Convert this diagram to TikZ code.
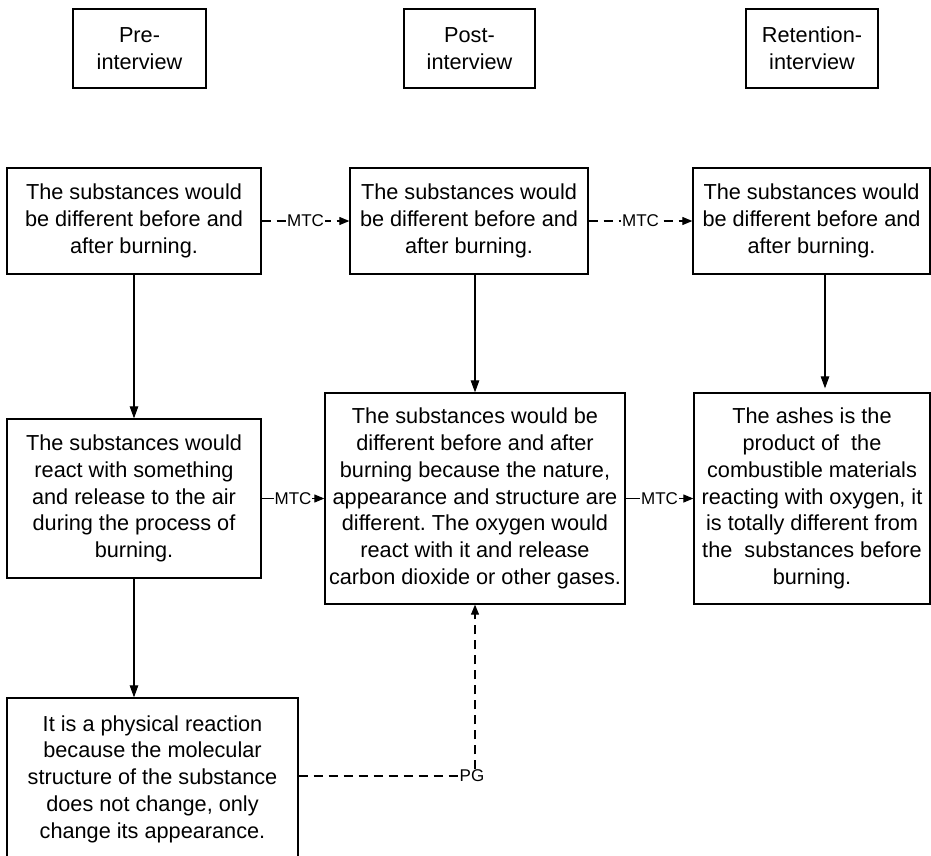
\documentclass[tikz,border=0pt]{standalone}
\usepackage{fontspec}
\setmainfont{Liberation Sans}
\usetikzlibrary{arrows.meta}
\frenchspacing
\begin{document}
\begin{tikzpicture}[x=1pt,y=-1pt,
  box/.style={draw,line width=1.3pt,align=center,inner sep=0pt,
    font=\fontsize{21.7}{26.8}\selectfont\frenchspacing},
  lbl/.style={fill=white,inner sep=1pt,font=\fontsize{17}{19}\selectfont},
  conn/.style={line width=1.1pt,-{Triangle[length=10pt,width=8pt]}},
  vconn/.style={line width=1.1pt,-{Triangle[length=12pt,width=8.5pt]}},
  dsh/.style={dash pattern=on 9pt off 6pt}]
\useasboundingbox (0,0) rectangle (931,855);

% header boxes
\node[box,minimum width=133pt,minimum height=79pt] (hpre) at (139.5,48.5) {Pre-\\interview};
\node[box,minimum width=131pt,minimum height=79pt] (hpost) at (469.5,48.5) {Post-\\interview};
\node[box,minimum width=132pt,minimum height=79pt] (hret) at (812,48.5) {Retention-\\interview};

% row 1
\node[box,minimum width=254pt,minimum height=106pt] (r1a) at (134,221)
  {The substances would\\be different before and\\after burning.};
\node[box,minimum width=238pt,minimum height=106pt] (r1b) at (469,221)
  {The substances would\\be different before and\\after burning.};
\node[box,minimum width=237pt,minimum height=106pt] (r1c) at (811.5,221)
  {The substances would\\be different before and\\after burning.};

% row 2
\node[box,minimum width=254pt,minimum height=159pt] (r2a) at (134,498.5)
  {The substances would\\react with something\\and release to the air\\during the process of\\burning.};
\node[box,minimum width=300pt,minimum height=211pt] (r2b) at (475,498.5)
  {The substances would be\\different before and after\\burning because the nature,\\appearance and structure are\\different. The oxygen would\\react with it and release\\carbon dioxide or other gases.};
\node[box,minimum width=236pt,minimum height=211pt] (r2c) at (812,498.5)
  {The ashes is the\\product of~ the\\combustible materials\\reacting with oxygen, it\\is totally different from\\the~ substances before\\burning.};

% row 3
\node[box,minimum width=291pt,minimum height=162pt] (r3a) at (152.5,779)
  {It is a physical reaction\\because the molecular\\structure of the substance\\does not change, only\\change its appearance.};

% vertical arrows
\draw[vconn] (r1a.south) -- (r2a.north);
\draw[vconn] (r2b.north |- r1b.south) -- (r2b.north);
\draw[vconn,shorten >=4pt] ([xshift=13.5pt]r1c.south) -- ([xshift=13pt]r2c.north);
\draw[vconn] (r2a.south) -- (r2a.south |- r3a.north);

% horizontal connectors
\draw[conn,dsh] (r1a.east) -- node[lbl] {MTC} (r1b.west);
\draw[conn,dsh] (r1b.east) -- node[lbl] {MTC} (r1c.west);
\draw[conn] (r2a.east) -- node[lbl] {MTC} (r2b.west);
\draw[conn] (r2b.east) -- node[lbl] {MTC} (r2c.west);

% PG connector
\node[lbl,inner sep=0.5pt] (pg) at (472,776) {PG};
\draw[line width=1.1pt,dsh] (r3a.east |- pg.west) -- (pg.west);
\draw[conn,dsh] (r2b.south |- pg.north) -- (r2b.south);
\end{tikzpicture}
\end{document}
